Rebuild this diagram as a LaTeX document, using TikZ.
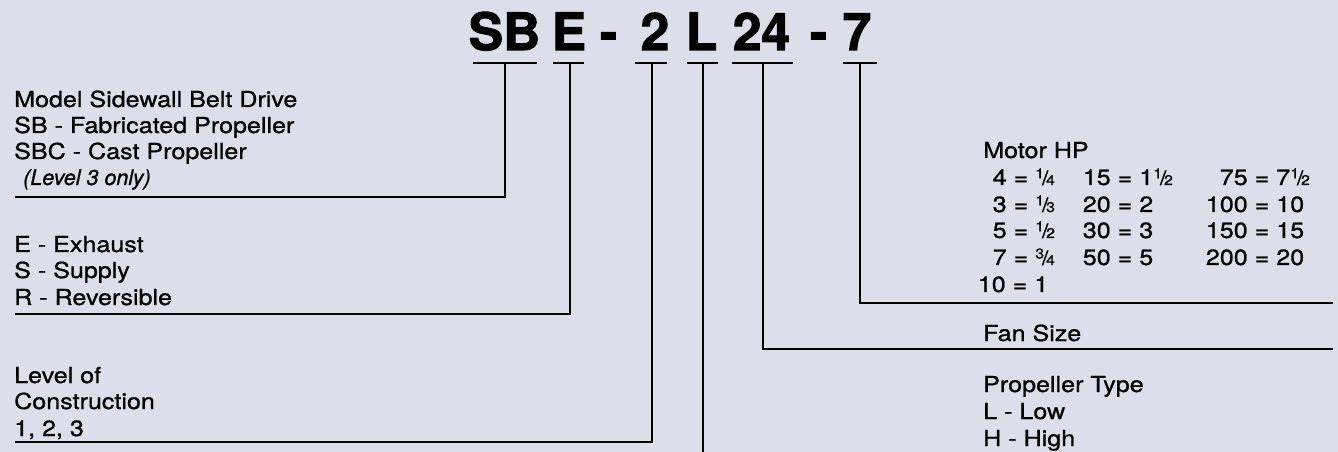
\documentclass[tikz,border=0pt]{standalone}
\usepackage{fontspec}
\setmainfont{TeX Gyre Heros}[BoldFont=*-Bold, BoldFeatures={FakeBold=2}]
\newfontfamily\bodyfont{TeX Gyre Heros}[FakeStretch=1.14, FakeBold=0.9]
\newfontfamily\itfont{TeX Gyre Heros}[UprightFont=*-Italic, FakeBold=0.9]
\definecolor{bg}{RGB}{220,222,234}
\newcommand\fr[2]{\raisebox{0.3em}{\fontsize{14bp}{14bp}\selectfont #1}\kern-0.1em{\fontsize{20bp}{20bp}\selectfont/}\kern-0.1em{\fontsize{14bp}{14bp}\selectfont #2}}
\begin{document}
\begin{tikzpicture}[x=1bp,y=-1bp,
  lbl/.style={anchor=base west, inner sep=0pt, font=\bodyfont\fontsize{22bp}{26bp}\selectfont},
  eq/.style={anchor=base, inner sep=0pt, font=\bodyfont\fontsize{22bp}{26bp}\selectfont},
  note/.style={anchor=base west, inner sep=0pt, font=\itfont\fontsize{21.5bp}{26bp}\selectfont},
  code/.style={anchor=base, inner sep=0pt, font=\bfseries\fontsize{51.5bp}{52bp}\selectfont},
  bar/.style={line width=2.2bp},
  lead/.style={line width=2.8bp}]
\fill[bg] (0,0) rectangle (1338,452);
\useasboundingbox (0,0) rectangle (1338,452);
% title code
\node[code] (tSB) at (504.5,50) {SB};
\node[code] (tE) at (569,50) {E};
\node[code] (d1) at (608.5,50) {-};
\node[code] (t2) at (655,50) {2};
\node[code] (tL) at (701.5,50) {L};
\node[code] (t24) at (761.5,50) {24};
\node[code] (d2) at (818.5,50) {-};
\node[code] (t7) at (857,50) {7};
% bars
\coordinate (bSBl) at (473,63); \coordinate (bSBr) at (537,63); \coordinate (bSB) at (505,63);
\coordinate (bEl) at (553,63); \coordinate (bEr) at (584,63); \coordinate (bE) at (570,63);
\coordinate (b2l) at (635,63); \coordinate (b2r) at (667,63); \coordinate (b2) at (652,63);
\coordinate (bLl) at (687,63); \coordinate (bLr) at (718,63); \coordinate (bL) at (703,63);
\coordinate (b24l) at (732,63); \coordinate (b24r) at (793,63); \coordinate (b24) at (763,63);
\coordinate (b7l) at (843,63); \coordinate (b7r) at (877,63); \coordinate (b7) at (860,63);
\draw[bar] (bSBl) -- (bSBr); \draw[bar] (bEl) -- (bEr); \draw[bar] (b2l) -- (b2r);
\draw[bar] (bLl) -- (bLr); \draw[bar] (b24l) -- (b24r); \draw[bar] (b7l) -- (b7r);
% lead ends
\coordinate (eSB) at (15,197);
\coordinate (eE) at (15,314);
\coordinate (e2) at (15,442);
\coordinate (eL) at (703,453);
\coordinate (e24) at (1333,349);
\coordinate (e7) at (1333,303);
\draw[lead] (bSB) |- (eSB);
\draw[lead] (bE) |- (eE);
\draw[lead] (b2) |- (e2);
\draw[lead] (bL) -- (eL);
\draw[lead] (b24) |- (e24);
\draw[lead] (b7) |- (e7);
% left labels
\node[lbl] (m1) at (14,107) {Model Sidewall Belt Drive};
\node[lbl] (m2) at (14,133) {SB - Fabricated Propeller};
\node[lbl] (m3) at (14,159) {SBC - Cast Propeller};
\node[note] (m4) at (23,185) {(Level 3 only)};
\node[lbl] (a1) at (14,252) {E - Exhaust};
\node[lbl] (a2) at (14,278) {S - Supply};
\node[lbl] (a3) at (14,305) {R - Reversible};
\node[lbl] (c1) at (14,383) {Level of};
\node[lbl] (c2) at (14,409) {Construction};
\node[lbl] (c3) at (14,436) {1, 2, 3};
% right labels
\node[lbl] (hp) at (983,158) {Motor HP};
\node[eq] (h11) at (1021,185) {\makebox[0pt][r]{4\ }=\makebox[0pt][l]{\ \fr{1}{4}}};
\node[eq] (h12) at (1021,212) {\makebox[0pt][r]{3\ }=\makebox[0pt][l]{\ \fr{1}{3}}};
\node[eq] (h13) at (1021,238) {\makebox[0pt][r]{5\ }=\makebox[0pt][l]{\ \fr{1}{2}}};
\node[eq] (h14) at (1021,265) {\makebox[0pt][r]{7\ }=\makebox[0pt][l]{\ \fr{3}{4}}};
\node[eq] (h15) at (1020,292) {\makebox[0pt][r]{10\ }=\makebox[0pt][l]{\ 1}};
\node[eq] (h21) at (1125,185) {\makebox[0pt][r]{15\ }=\makebox[0pt][l]{\ 1\fr{1}{2}}};
\node[eq] (h22) at (1125,212) {\makebox[0pt][r]{20\ }=\makebox[0pt][l]{\ 2}};
\node[eq] (h23) at (1125,238) {\makebox[0pt][r]{30\ }=\makebox[0pt][l]{\ 3}};
\node[eq] (h24) at (1125,265) {\makebox[0pt][r]{50\ }=\makebox[0pt][l]{\ 5}};
\node[eq] (h31) at (1262,185) {\makebox[0pt][r]{75\ }=\makebox[0pt][l]{\ 7\fr{1}{2}}};
\node[eq] (h32) at (1262,212) {\makebox[0pt][r]{100\ }=\makebox[0pt][l]{\ 10}};
\node[eq] (h33) at (1262,238) {\makebox[0pt][r]{150\ }=\makebox[0pt][l]{\ 15}};
\node[eq] (h34) at (1262,265) {\makebox[0pt][r]{200\ }=\makebox[0pt][l]{\ 20}};
\node[lbl] (fs) at (983,341) {Fan Size};
\node[lbl] (p1) at (983,392) {Propeller Type};
\node[lbl] (p2) at (983,419) {L - Low};
\node[lbl] (p3) at (983,446) {H - High};
\end{tikzpicture}
\end{document}
